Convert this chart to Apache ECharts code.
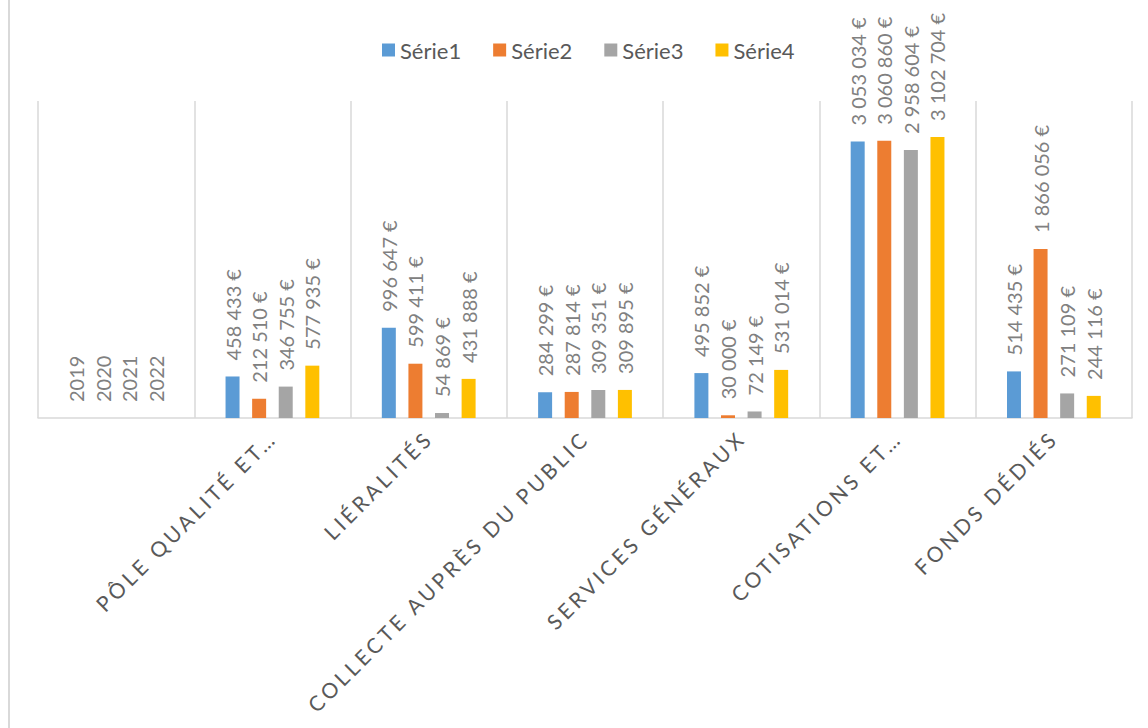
<!DOCTYPE html>
<html>
<head>
<meta charset="utf-8">
<script src="https://cdn.jsdelivr.net/npm/echarts@6/dist/echarts.min.js"></script>
<style>
  html, body { margin: 0; padding: 0; background: #ffffff; }
  #chart { width: 1148px; height: 728px; }
  /* spaced capitals for the category axis labels */
  #chart text[style*="Noto"] { letter-spacing: 3.5px; }
</style>
</head>
<body>
<div id="chart"></div>
<script>
// Budget lines and the four yearly series (euros)
const categories = ['', 'PÔLE QUALITÉ ET…', 'LIÉRALITÉS', 'COLLECTE AUPRÈS DU PUBLIC', 'SERVICES GÉNÉRAUX', 'COTISATIONS ET…', 'FONDS DÉDIÉS'];
const seriesNames = ['Série1', 'Série2', 'Série3', 'Série4'];
const yearLabels = ['2019', '2020', '2021', '2022'];
const serie1 = [0, 458433, 996647, 284299, 495852, 3053034, 514435];
const serie2 = [0, 212510, 599411, 287814, 30000, 3060860, 1866056];
const serie3 = [0, 346755, 54869, 309351, 72149, 2958604, 271109];
const serie4 = [0, 577935, 431888, 309895, 531014, 3102704, 244116];
const seriesValues = [serie1, serie2, serie3, serie4];
const colors = ['#5b9bd5', '#ed7d31', '#a5a5a5', '#ffc000'];

const euro = v => String(v).replace(/\B(?=(\d{3})+(?!\d))/g, ' ') + ' €';

const chart = echarts.init(document.getElementById('chart'), null, { renderer: 'svg' });

chart.setOption({
  animation: false,
  color: colors,
  legend: {
    top: 39,
    left: 382,
    padding: 0,
    icon: 'rect',
    itemWidth: 13,
    itemHeight: 13,
    itemGap: 32,
    textStyle: { fontFamily: 'Lato', fontSize: 22, color: '#595959' },
    data: seriesNames
  },
  grid: { left: 38, right: 16, top: 101, bottom: 310, containLabel: false, outerBoundsMode: 'none' },
  xAxis: {
    type: 'category',
    data: categories,
    axisLine: { lineStyle: { color: '#d9d9d9', width: 1.5 } },
    axisTick: { show: false },
    splitLine: { show: true, lineStyle: { color: '#d9d9d9', width: 1.5 } },
    axisLabel: {
      interval: 0,
      rotate: 45,
      margin: 16,
      fontFamily: 'Lato, "Noto Sans"',
      fontSize: 21,
      color: '#595959'
    }
  },
  yAxis: {
    type: 'value',
    min: 0,
    max: 3500000,
    show: false,
    splitLine: { show: false }
  },
  graphic: [{
    type: 'rect',
    left: 8, top: 0,
    shape: { width: 2, height: 728 },
    style: { fill: '#d9d9d9' },
    silent: true
  }],
  series: seriesValues.map((vals, i) => ({
    name: seriesNames[i],
    type: 'bar',
    data: vals,
    barGap: '90%',
    barCategoryGap: '40%',
    label: {
      show: true,
      position: 'top',
      distance: 16,
      rotate: 90,
      align: 'left',
      verticalAlign: 'middle',
      fontFamily: 'Lato',
      fontSize: 20,
      color: '#808080',
      formatter: p => p.dataIndex === 0 ? yearLabels[i] : euro(p.value)
    }
  }))
});
</script>
</body>
</html>
